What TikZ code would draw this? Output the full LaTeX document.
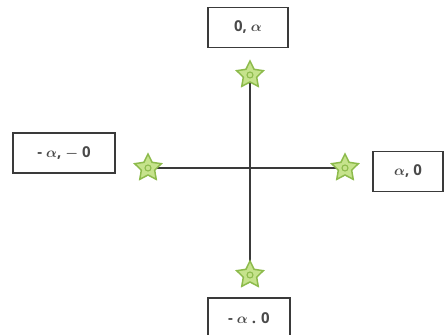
\documentclass[tikz,border=0pt]{standalone}
\usepackage{fontspec}
\usepackage{bm}
\setmainfont{Open Sans}
\usetikzlibrary{shapes.geometric}
\definecolor{starfill}{HTML}{C6E38C}
\definecolor{starline}{HTML}{8DBB4C}
\definecolor{axisgray}{HTML}{3A3A3A}
\definecolor{textgray}{HTML}{4A4A4A}
\tikzset{
  x=1pt, y=1pt,
  starmark/.style={star, star points=5, star point ratio=2.0, minimum size=28pt,
    inner sep=0pt, fill=starfill, draw=starline, line width=1.5pt},
  stardot/.style={circle, minimum size=6pt, inner sep=0pt, draw=starline, line width=1.1pt, fill=starfill},
  labelbox/.style={draw=axisgray, line width=1.2pt, minimum height=40pt, inner sep=0pt,
    font=\fontsize{15}{18}\selectfont\bfseries, text=textgray},
  axisline/.style={draw=axisgray, line width=1.3pt}
}
\begin{document}
\begin{tikzpicture}
\useasboundingbox (0,0) rectangle (445,335);
% end points of the axes
\coordinate (t) at (250,260);
\coordinate (b) at (250,60);
\coordinate (l) at (148,167);
\coordinate (r) at (345,167);
% axes
\draw[axisline] (t) -- (b);
\draw[axisline] (l) -- (r);
% star markers on top of the axis ends
\foreach \s in {t,b,l,r} {
  \node[starmark] (\s m) at (\s) {};
  \node[stardot] at (\s) {};
}
% coordinate labels
\node[labelbox, minimum width=80pt] (tl) at (248,307.5) {0, $\bm{\alpha}$};
\node[labelbox, minimum width=102pt] (ll) at (64,182) {- $\bm{\alpha}$, $\bm{-}$ 0};
\node[labelbox, minimum width=70pt] (rl) at (408,163.5) {$\bm{\alpha}$, 0};
\node[labelbox, minimum width=82pt] (bl) at (249,17) {- $\bm{\alpha}$ . 0};
\end{tikzpicture}
\end{document}
